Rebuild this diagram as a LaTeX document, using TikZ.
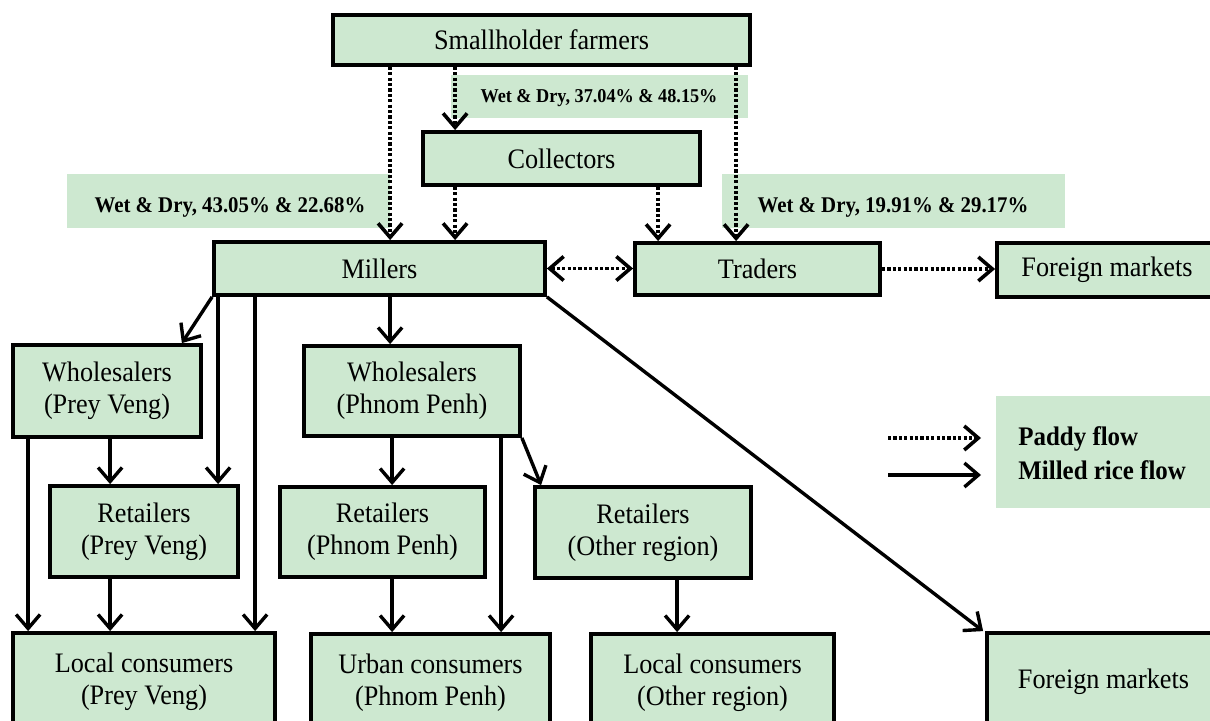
\documentclass[tikz,border=0pt]{standalone}
\usepackage{fontspec}
\setmainfont{Liberation Serif}[FakeStretch=0.93]
\usetikzlibrary{arrows.meta,calc}
\definecolor{boxgreen}{RGB}{205,232,208}
\tikzset{
  box/.style={draw=black, line width=1.9pt, fill=boxgreen, inner sep=0pt, align=center,
    font=\fontsize{14.1}{16}\selectfont},
  lblbox/.style={fill=boxgreen, draw=none, inner sep=0pt},
  lbltext/.style={inner sep=0pt, font=\bfseries\fontsize{11.2}{12}\selectfont},
  lbltextsmall/.style={inner sep=0pt, font=\bfseries\fontsize{9.8}{11}\selectfont},
  legtext/.style={inner sep=0pt, font=\bfseries\fontsize{13.4}{15}\selectfont},
  tipA/.tip={Straight Barb[length=7pt,width=12pt]},
  paddy/.style={line width=1.8pt, dash pattern=on 1.6pt off 1.1pt, -tipA},
  paddyboth/.style={line width=1.8pt, dash pattern=on 1.6pt off 1.1pt, tipA-tipA},
  milled/.style={line width=1.7pt, -tipA},
}
\begin{document}
\begin{tikzpicture}[x=0.5pt,y=-0.5pt]
\useasboundingbox (0,0) rectangle (1210,721);

% label backgrounds
\node[lblbox, minimum width=148.5pt, minimum height=21.5pt] (l1box) at (599.5,96.5) {};
\node[lblbox, minimum width=161.5pt, minimum height=27pt] (l2box) at (228.5,201) {};
\node[lblbox, minimum width=171.5pt, minimum height=27pt] (l3box) at (893.5,201) {};
\node[lblbox, minimum width=112pt, minimum height=56pt] (legbox) at (1108,452) {};

% boxes
\node[box, minimum width=208.5pt, minimum height=25pt] (farmers) at (541.5,40) {Smallholder farmers};
\node[box, minimum width=138.5pt, minimum height=26.5pt] (collectors) at (561.5,158.5) {Collectors};
\node[box, minimum width=165.5pt, minimum height=26.5pt] (millers) at (379.5,268.5) {Millers};
\node[box, minimum width=122.5pt, minimum height=26pt] (traders) at (757.5,269) {Traders};
\node[box, minimum width=110pt, minimum height=27pt] (foreignA) at (1107,270) {Foreign markets};

\node[box, minimum width=94pt, minimum height=46pt] (wsPV) at (107,391) {Wholesalers\\(Prey Veng)};
\node[box, minimum width=108pt, minimum height=45pt] (wsPP) at (412,391) {Wholesalers\\(Phnom Penh)};
\node[box, minimum width=94pt, minimum height=45.5pt] (rtPV) at (144,531.5) {Retailers\\(Prey Veng)};
\node[box, minimum width=102.5pt, minimum height=45pt] (rtPP) at (382.5,532) {Retailers\\(Phnom Penh)};
\node[box, minimum width=108pt, minimum height=45.5pt] (rtOR) at (643,532.5) {Retailers\\(Other region)};

\node[box, minimum width=131pt, minimum height=49pt] (lcPV) at (144,682) {Local consumers\\(Prey Veng)};
\node[box, minimum width=119.5pt, minimum height=48.5pt] (ucPP) at (430.5,682.5) {Urban consumers\\(Phnom Penh)};
\node[box, minimum width=121.5pt, minimum height=48.5pt] (lcOR) at (712.5,682.5) {Local consumers\\(Other region)};
\node[box, minimum width=116.5pt, minimum height=49pt] (foreignB) at (1103.5,682) {Foreign markets};

% label texts
\node[lbltextsmall, anchor=base] (l1) at (599,103) {Wet \& Dry, 37.04\% \& 48.15\%};
\node[lbltext, anchor=base] (l2) at (230,213) {Wet \& Dry, 43.05\% \& 22.68\%};
\node[lbltext, anchor=base] (l3) at (893,213) {Wet \& Dry, 19.91\% \& 29.17\%};

% paddy flows
\draw[paddy] ([xshift=29.5pt]farmers.south west) -- ([xshift=29.5pt]farmers.south west |- millers.north);
\draw[paddy] ([xshift=62pt]farmers.south west) -- ([xshift=62pt]farmers.south west |- collectors.north);
\draw[paddy] ([xshift=202.5pt]farmers.south west) -- ([xshift=202.5pt]farmers.south west |- traders.north);
\draw[paddy] ([xshift=17pt]collectors.south west) -- ([xshift=17pt]collectors.south west |- millers.north);
\draw[paddy] ([xshift=118.5pt]collectors.south west) -- ([xshift=118.5pt]collectors.south west |- traders.north);
\draw[paddyboth] (millers.east) -- (millers.east -| traders.west);
\draw[paddy] (traders.east) -- (traders.east -| foreignA.west);

% milled rice flows
\draw[milled] (millers.south west) -- ([xshift=-10.5pt]wsPV.north east);
\draw[milled] ([xshift=3pt]millers.south west) -- ([xshift=3pt]millers.south west |- rtPV.north);
\draw[milled] ([xshift=21.5pt]millers.south west) -- ([xshift=21.5pt]millers.south west |- lcPV.north);
\draw[milled] ([xshift=89pt]millers.south west) -- ([xshift=89pt]millers.south west |- wsPP.north);
\draw[milled] (millers.south east) -- ([xshift=-1pt]foreignB.north west);
\draw[milled] ([xshift=8.5pt]wsPV.south west) -- ([xshift=8.5pt]wsPV.south west |- lcPV.north);
\draw[milled] ([xshift=49.5pt]wsPV.south west) -- ([xshift=49.5pt]wsPV.south west |- rtPV.north);
\draw[milled] ([xshift=31pt]rtPV.south west) -- ([xshift=31pt]rtPV.south west |- lcPV.north);
\draw[milled] ([xshift=45pt]wsPP.south west) -- ([xshift=45pt]wsPP.south west |- rtPP.north);
\draw[milled] ([xshift=99.5pt]wsPP.south west) -- ([xshift=99.5pt]wsPP.south west |- ucPP.north);
\draw[milled] (wsPP.south east) -- ([xshift=4pt]rtOR.north west);
\draw[milled] ([xshift=57pt]rtPP.south west) -- ([xshift=57pt]rtPP.south west |- ucPP.north);
\draw[milled] ([xshift=72pt]rtOR.south west) -- ([xshift=72pt]rtOR.south west |- lcOR.north);

% legend
\coordinate (lp1) at (888,438);
\coordinate (lp2) at (981,438);
\coordinate (lm1) at (888,475);
\coordinate (lm2) at (981,475);
\draw[paddy] (lp1) -- (lp2);
\draw[milled] (lm1) -- (lm2);
\node[legtext, anchor=base west] (lt1) at (1018,445) {Paddy flow};
\node[legtext, anchor=base west] (lt2) at (1018,480) {Milled rice flow};
\end{tikzpicture}
\end{document}
